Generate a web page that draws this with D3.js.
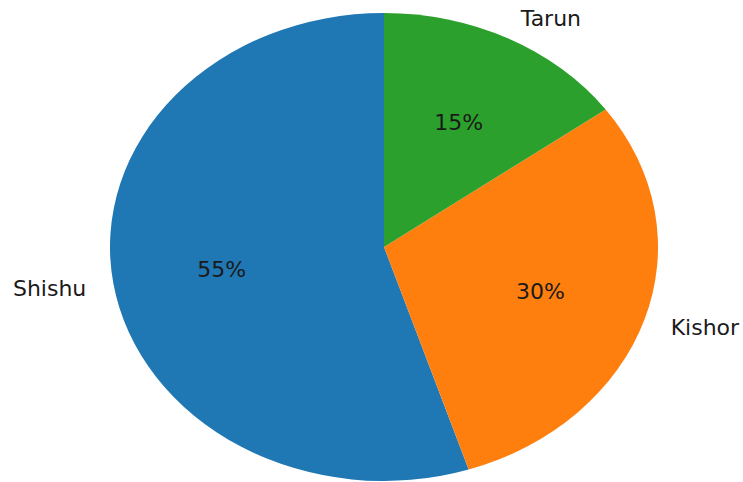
<!DOCTYPE html>
<html>
<head>
<meta charset="utf-8">
<script src="https://cdn.jsdelivr.net/npm/d3@7"></script>
<style>
  html, body { margin: 0; padding: 0; background: #fff; }
  svg { display: block; }
  text { font-family: "DejaVu Sans", sans-serif; fill: #1a1a1a; }
</style>
</head>
<body>
<svg id="chart" width="743" height="482"></svg>
<script>
const categories = ["Shishu", "Kishor", "Tarun"];
const values = [55, 30, 15];
const pctLabels = ["55%", "30%", "15%"];
const colors = ["#1f77b4", "#ff7f0e", "#2ca02c"];

const W = 743, H = 482;
const cx = 384, cy = 247, rx = 274, ry = 234;
const fontSize = 22;

const svg = d3.select("#chart");

const color = d3.scaleOrdinal().domain(categories).range(colors);

const pie = d3.pie()
  .sort(null)
  .value(d => d.value)
  .startAngle(0)
  .endAngle(-2 * Math.PI);

const data = categories.map((c, i) => ({ name: c, value: values[i], pct: pctLabels[i] }));
const arcs = pie(data);

const arc = d3.arc().innerRadius(0).outerRadius(ry);

const g = svg.append("g")
  .attr("transform", `translate(${cx},${cy}) scale(${rx / ry},1)`);

g.selectAll("path")
  .data(arcs)
  .join("path")
  .attr("d", arc)
  .attr("fill", d => color(d.data.name));

function pos(a, f) {
  return [cx + Math.sin(a) * rx * f, cy - Math.cos(a) * ry * f];
}

arcs.forEach(d => {
  const mid = (d.startAngle + d.endAngle) / 2;
  const [px, py] = pos(mid, 0.6);
  svg.append("text")
    .attr("x", px).attr("y", py)
    .attr("dy", "0.38em")
    .attr("text-anchor", "middle")
    .attr("font-size", fontSize)
    .text(d.data.pct);
  const [lx, ly] = pos(mid, 1.1);
  svg.append("text")
    .attr("x", lx).attr("y", ly)
    .attr("dy", "0.38em")
    .attr("text-anchor", Math.sin(mid) >= 0 ? "start" : "end")
    .attr("font-size", fontSize)
    .text(d.data.name);
});
</script>
</body>
</html>
